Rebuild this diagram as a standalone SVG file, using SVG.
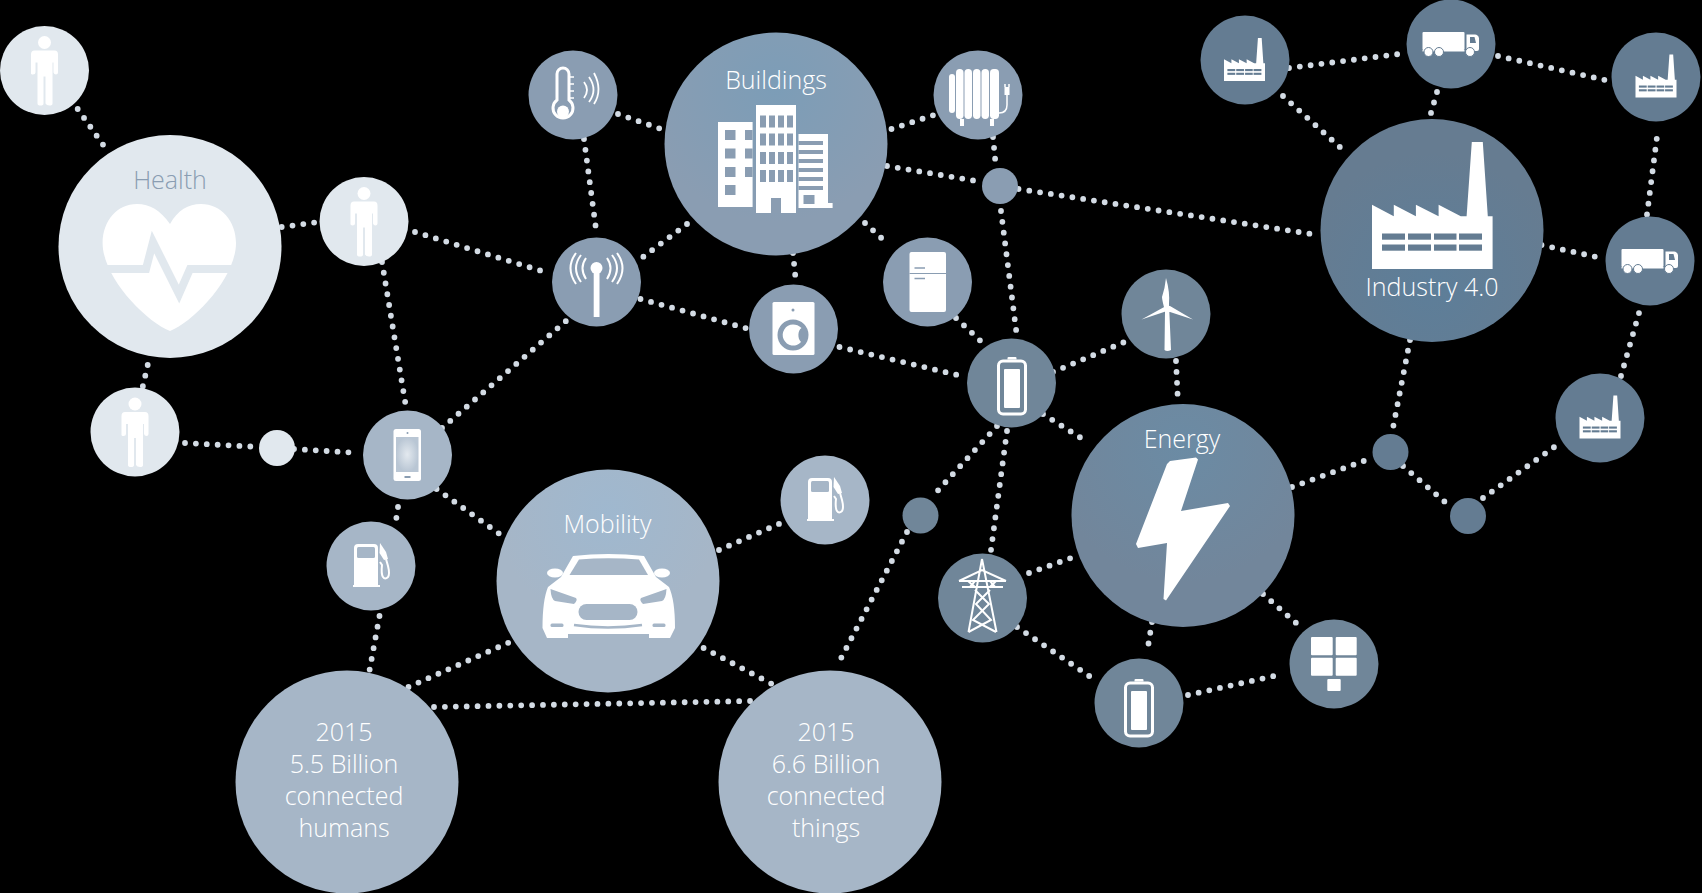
<svg xmlns="http://www.w3.org/2000/svg" width="1702" height="893" viewBox="0 0 1702 893">
<style>
.c{fill:none;stroke:#d3dbe4;stroke-width:5.8;stroke-linecap:round;stroke-dasharray:0 10.9}
.t{font-family:"Open Sans","Noto Sans",sans-serif;font-size:25px;font-weight:300;fill:#fff;text-anchor:middle}
.w{fill:#fff}
.s{fill:none;stroke:#fff}
.n1{fill:#e1e8ee}.n2{fill:#a6b6c7}.n3{fill:#8a9db2}.n4{fill:#708699}.n5{fill:#647c92}
</style>
<defs>
<radialGradient id="gB" cx=".5" cy=".25" r=".6"><stop offset="0" stop-color="#7c9db7"/><stop offset="1" stop-color="#8a9db2"/></radialGradient>
<radialGradient id="gI" cx=".5" cy=".75" r=".6"><stop offset="0" stop-color="#5d7e99"/><stop offset="1" stop-color="#667c91"/></radialGradient>
<radialGradient id="gE" cx=".5" cy=".2" r=".6"><stop offset="0" stop-color="#6b8ba4"/><stop offset="1" stop-color="#72869b"/></radialGradient>
<radialGradient id="gM" cx=".5" cy=".2" r=".5"><stop offset="0" stop-color="#9fb8cf"/><stop offset="1" stop-color="#a6b6c7"/></radialGradient>
<radialGradient id="gS"><stop offset="0" stop-color="#e3e9ef"/><stop offset="1" stop-color="#b9c6d4"/></radialGradient>
<g id="person">
<circle cy="-28" r="6.5" class="w"/>
<path class="w" d="M-10-20H10Q13.500-20 13.500-16V2Q13.500 4 11.500 4T9 2V-8H8V33Q8 35 5 35T1 33V6H-1V33Q-1 35-4 35T-7 33V-8H-9V2Q-9 4-11.500 4T-13.500 2V-16Q-13.500-20-10-20Z"/>
</g>
<g id="fuel">
<path class="w" d="M-17-18Q-17-22-13-22H3Q7-22 7-18V19H9V21H-18V19H-17Z"/>
<rect x="-14" y="-19" width="18" height="11" rx="1.500" fill="#a6b6c7"/>
<path class="w" d="M9-23L15-14 17-7 13-6 8.500-13Z"/>
<path d="M15-7L17 0Q19 8 17 11 14 14 12 11 10 8 11-1L9 -4" fill="none" stroke="#fff" stroke-width="2"/>
</g>
<g id="factory">
<path class="w" d="M-60.300 63.500V-.7L-38.500 10.700V-.7L-16.400 10.700V-.7L6.300 10.700V-.7L28.500 10.700H34.300L39.500-63.500H50.500L55.500 10.700H60.300V63.500Z"/>
<g fill="#647c92">
<rect x="-50.300" y="28" width="23" height="6.200"/><rect x="-24.300" y="28" width="23" height="6.200"/><rect x="1.700" y="28" width="22.500" height="6.200"/><rect x="26.700" y="28" width="23" height="6.200"/>
<rect x="-50.300" y="39" width="23" height="6.200"/><rect x="-24.300" y="39" width="23" height="6.200"/><rect x="1.700" y="39" width="22.500" height="6.200"/><rect x="26.700" y="39" width="23" height="6.200"/>
</g>
</g>
<g id="truck">
<rect x="-28.500" y="-12" width="42" height="18" rx="1" class="w"/>
<path class="w" d="M15.500-9.500H24Q27-9.500 28-6V5Q28 7 26 7H15.500Z"/>
<rect x="-28.500" y="6" width="42" height="1.500" class="w"/>
<path d="M19-7H23.500L25-1H19Z" fill="#647c92"/>
<circle cx="-22.500" cy="8" r="4.500" class="w" stroke="#647c92" stroke-width="1"/><circle cx="-12" cy="8" r="4.500" class="w" stroke="#647c92" stroke-width="1"/><circle cx="19" cy="8" r="4.500" class="w" stroke="#647c92" stroke-width="1"/>
</g>
<g id="battery">
<rect x="-13" y="-25" width="27" height="53" rx="4.500" class="s" stroke-width="3"/>
<rect x="-7.500" y="-17" width="16" height="39" rx="1" class="w"/>
<path class="w" d="M-4-26.500V-28Q-4-29-3-29H4Q5-29 5-28V-26.500Z"/>
</g>
</defs>
<rect width="1702" height="893" fill="#000"/>

<g id="connectors">
<path class="c" d="M77.700 109L109 153"/>
<path class="c" d="M281.700 227L315 222.500"/>
<path class="c" d="M147.700 365L142.700 387"/>
<path class="c" d="M415 232L545 272"/>
<path class="c" d="M382 262L406 407"/>
<path class="c" d="M442 428L569.500 318"/>
<path class="c" d="M185 443L260 447"/>
<path class="c" d="M294 449L359 453"/>
<path class="c" d="M584 139L596 229"/>
<path class="c" d="M618 114L661 129"/>
<path class="c" d="M687 224L641.600 258"/>
<path class="c" d="M640.500 299L749 329"/>
<path class="c" d="M793 253L796 283"/>
<path class="c" d="M891.500 129L934 115"/>
<path class="c" d="M993 137L996 168"/>
<path class="c" d="M887 166L976.500 181"/>
<path class="c" d="M1018.500 189L1315 234.500"/>
<path class="c" d="M1001 211L1017 337"/>
<path class="c" d="M865 223L889 245"/>
<path class="c" d="M956 318L986 346"/>
<path class="c" d="M839.500 347L966 377"/>
<path class="c" d="M1053 372L1124.500 342"/>
<path class="c" d="M1176 361L1178 403"/>
<path class="c" d="M1043 414L1089 443"/>
<path class="c" d="M1007 431L991 550"/>
<path class="c" d="M997 426L931 498"/>
<path class="c" d="M907 532L838 664"/>
<path class="c" d="M1029 573L1071 558"/>
<path class="c" d="M1017 627L1098 682"/>
<path class="c" d="M1152 622L1147 653"/>
<path class="c" d="M1263 594L1303 629"/>
<path class="c" d="M1188 695L1283 674"/>
<path class="c" d="M1292 487L1372 458"/>
<path class="c" d="M1410 340L1392 433"/>
<path class="c" d="M1403 466L1452 508"/>
<path class="c" d="M1483 498L1562.600 441"/>
<path class="c" d="M1621 376L1639 313"/>
<path class="c" d="M1647 214.500L1658 129"/>
<path class="c" d="M1541.500 245L1604 258.600"/>
<path class="c" d="M1498 56L1605 80"/>
<path class="c" d="M1289 68L1399 54"/>
<path class="c" d="M1437 92L1431 113"/>
<path class="c" d="M1283 96L1347.600 154"/>
<path class="c" d="M436.600 489L501 535"/>
<path class="c" d="M398 507L395 527"/>
<path class="c" d="M379.500 616L369.600 670"/>
<path class="c" d="M408.500 687L510 642"/>
<path class="c" d="M434 707L751 701"/>
<path class="c" d="M703.600 648L772 684"/>
<path class="c" d="M719 550L781 523"/>
</g>

<g id="health"><circle cx="170" cy="246.500" r="111.500" class="n1"/>
<text x="170" y="189" class="t" style="fill:#8a9db2">Health</text>
<path class="w" d="M170 224C160 210 150 204 137 204 117 204 102.600 221 102.600 243 102.600 277 145 321 170 331 195 321 236 277 236 243 236 221 221 204 201 204 188 204 178 210 170 224Z"/>
<path d="M100 269H146L153 242 179 294 190 269H240" fill="none" stroke="#e1e8ee" stroke-width="8"/>
</g>
<g id="person-top"><circle cx="44.500" cy="70.500" r="44.500" class="n1"/><use href="#person" x="44.500" y="70.500"/></g>
<g id="person-mid"><circle cx="364" cy="221.500" r="44.500" class="n1"/><use href="#person" x="364" y="221.500"/></g>
<g id="person-low"><circle cx="135" cy="432" r="44.500" class="n1"/><use href="#person" x="135" y="432"/></g>
<g id="junction-light"><circle cx="277" cy="448" r="18" class="n1"/></g>

<g id="phone"><circle cx="407.500" cy="455" r="44.500" class="n2"/>
<rect x="393.500" y="429" width="27.500" height="52" rx="2.500" class="w"/>
<rect x="396" y="437" width="22.500" height="35" fill="url(#gS)"/>
<rect x="404.500" y="476" width="6" height="2" fill="#8a9db2"/>
<circle cx="407.500" cy="433" r="1" fill="#8a9db2"/>
</g>
<g id="fuel-left"><circle cx="371" cy="566" r="44.500" class="n2"/><use href="#fuel" x="371" y="566"/></g>
<g id="fuel-right"><circle cx="825" cy="500" r="44.500" class="n2"/><use href="#fuel" x="825" y="500"/></g>

<g id="mobility"><circle cx="608" cy="581" r="111.500" fill="url(#gM)"/>
<text x="607.500" y="533" class="t">Mobility</text>
<ellipse cx="555" cy="573" rx="8" ry="4.500" class="w"/><ellipse cx="662" cy="573" rx="8" ry="4.500" class="w"/>
<path class="w" d="M573 556Q608 552 644 556L656 577 669 587Q675 600 675 628L670 638H649V634H568V638H547L542.500 628Q542.500 600 548 587L561 577Z"/>
<path d="M579 559.500Q608 557 639 559.500L648 575H569.500Z" fill="#a6b6c7"/>
<path d="M550.500 589L576 598Q578 600 574 604L555 601Q551 599 550.500 589ZM666.500 589L641 598Q639 600 643 604L662 601Q666 599 666.500 589Z" fill="#a6b6c7"/>
<rect x="578.500" y="604" width="59" height="16" rx="8" fill="#a6b6c7"/>
<path d="M574 625Q608 630 642 625" fill="none" stroke="#a6b6c7" stroke-width="2.500"/>
<rect x="550.500" y="623.500" width="13" height="3.500" rx="1.500" fill="#a6b6c7"/><rect x="652.500" y="623.500" width="13" height="3.500" rx="1.500" fill="#a6b6c7"/>
</g>

<g id="humans"><circle cx="347" cy="782" r="111.500" class="n2"/>
<text class="t" x="344" y="741">2015</text><text class="t" x="344" y="773">5.5 Billion</text><text class="t" x="344" y="805">connected</text><text class="t" x="344" y="837">humans</text>
</g>
<g id="things"><circle cx="830" cy="782" r="111.500" class="n2"/>
<text class="t" x="826" y="741">2015</text><text class="t" x="826" y="773">6.6 Billion</text><text class="t" x="826" y="805">connected</text><text class="t" x="826" y="837">things</text>
</g>

<g id="thermometer"><circle cx="573" cy="95" r="44.500" class="n3"/>
<path class="s" stroke-width="3" d="M557 100V74A6 6 0 0 1 569 74V100A10 10 0 1 1 557 100Z"/>
<circle cx="563" cy="111.500" r="6" class="w"/>
<path class="s" stroke-width="1.500" d="M570 77H574M570 84H574M570 91H574M570 98H574"/>
<path class="s" stroke-width="1.800" d="M584 82Q590 90 584 98M589 77Q598 90 589 102M594 73Q603 90 594 104"/>
</g>
<g id="buildings"><circle cx="776" cy="144" r="111.500" fill="url(#gB)"/>
<text class="t" x="776" y="89">Buildings</text>
<path class="w" d="M718 122H752.600V207H718ZM756 105H796V213H756ZM798.500 134H828V203H832.600V208H798.500Z"/>
<g fill="#8a9db2">
<rect x="725" y="130" width="10.500" height="10"/><rect x="725" y="148.500" width="10.500" height="10"/><rect x="725" y="167" width="10.500" height="10"/><rect x="725" y="185" width="10.500" height="10"/>
<rect x="745" y="130" width="7.600" height="10"/><rect x="745" y="148.500" width="7.600" height="10"/><rect x="745" y="167" width="7.600" height="10"/>
<rect x="760" y="115.500" width="6" height="12"/><rect x="769" y="115.500" width="6" height="12"/><rect x="778" y="115.500" width="6" height="12"/><rect x="787" y="115.500" width="6" height="12"/>
<rect x="760" y="133.500" width="6" height="12"/><rect x="769" y="133.500" width="6" height="12"/><rect x="778" y="133.500" width="6" height="12"/><rect x="787" y="133.500" width="6" height="12"/>
<rect x="760" y="152" width="6" height="12"/><rect x="769" y="152" width="6" height="12"/><rect x="778" y="152" width="6" height="12"/><rect x="787" y="152" width="6" height="12"/>
<rect x="760" y="170" width="6" height="12"/><rect x="769" y="170" width="6" height="12"/><rect x="778" y="170" width="6" height="12"/><rect x="787" y="170" width="6" height="12"/>
<rect x="771" y="198" width="10" height="15"/>
<rect x="798.500" y="141" width="24.500" height="4"/><rect x="798.500" y="150" width="24.500" height="4"/><rect x="798.500" y="159" width="24.500" height="4"/><rect x="798.500" y="168" width="24.500" height="4"/><rect x="798.500" y="177" width="24.500" height="4"/><rect x="798.500" y="186" width="24.500" height="4"/>
<rect x="803.500" y="195" width="11" height="9"/>
</g>
</g>
<g id="radiator"><circle cx="978" cy="95" r="44.500" class="n3"/>
<g class="w"><rect x="949" y="74" width="6" height="39" rx="3"/><rect x="956" y="69" width="7.500" height="50" rx="3.700"/><rect x="964.500" y="69" width="7.500" height="50" rx="3.700"/><rect x="973" y="69" width="7.500" height="50" rx="3.700"/><rect x="981.500" y="69" width="7.500" height="50" rx="3.700"/><rect x="990" y="69" width="9" height="50" rx="3.700"/>
<rect x="960" y="119" width="4" height="7"/><rect x="990" y="119" width="4" height="7"/><rect x="1004.500" y="87" width="5" height="8"/></g>
<path class="s" stroke-width="1.500" d="M999 113Q1007 113 1007 105V94M1005 87V84M1009 87V84"/>
</g>
<g id="antenna"><circle cx="596.500" cy="282" r="44.500" class="n3"/>
<rect x="593.700" y="268" width="5.800" height="49" class="w"/><circle cx="596.500" cy="268" r="6" class="w"/>
<path class="s" stroke-width="2" d="M586 258Q579 268 586 279M581 255Q571 268 581 282M576 253Q565 268 576 284M607 258Q614 268 607 279M612 255Q622 268 612 282M617 253Q628 268 617 284"/>
</g>
<g id="washer"><circle cx="793.500" cy="329" r="44.500" class="n3"/>
<rect x="772.500" y="302" width="42" height="53" rx="1.500" class="w"/>
<circle cx="793" cy="335" r="15.500" fill="#8a9db2"/>
<path class="w" d="M793 324.500A10.500 10.500 0 1 0 801 342C797 338 798 330 801.500 328 799 325.500 796 324.500 793 324.500Z"/>
<circle cx="793" cy="310" r="1.500" fill="#8a9db2"/>
</g>
<g id="fridge"><circle cx="927.500" cy="282" r="44.500" class="n3"/>
<rect x="909.500" y="252" width="36.500" height="60" rx="2" class="w"/>
<path d="M909.500 273.500H946" stroke="#8a9db2" stroke-width="1.200"/>
<path d="M914.500 268H925M914.500 278.500H925" stroke="#8a9db2" stroke-width="1.500"/>
</g>
<g id="junction-buildings"><circle cx="1000" cy="186" r="18" class="n3"/></g>

<g id="battery-top"><circle cx="1011.500" cy="383" r="44.500" class="n4"/><use href="#battery" x="1011.500" y="386"/></g>
<g id="wind"><circle cx="1166" cy="314" r="44.500" class="n4"/>
<path class="w" d="M1166 278Q1170 292 1169 304L1171 350Q1167 352 1164.500 350L1165 311Q1162 300 1162 297 1165 288 1166 278ZM1141.500 319.500L1166 306H1170L1193 319.500 1167 311Z"/>
</g>
<g id="energy"><circle cx="1183" cy="515.500" r="111.500" fill="url(#gE)"/>
<text class="t" x="1182" y="448">Energy</text>
<path class="w" d="M1170 461L1196 457.500 1198 459.500 1181 511 1228 503 1230 506 1166 600.500 1163.500 599 1167 543 1138 548 1136 544 1167 464Z"/>
</g>
<g id="tower"><circle cx="982.500" cy="598" r="44.500" class="n4"/>
<g class="s" stroke-width="2">
<path d="M982 559L968.500 632M982 559L996.500 632M959 581H1006M962 587H1003M959 581L982 570 1006 581M975 587L968 581 975 581 970 587M990 587L996 581 990 581 995 587"/>
<path d="M975 590L989 604 973 620 996 632M990 590L976 604 991 620 968.500 632"/>
</g></g>
<g id="battery-low"><circle cx="1139" cy="703" r="44.500" class="n4"/><use href="#battery" x="1138.500" y="708"/></g>
<g id="solar"><circle cx="1334" cy="664" r="44.500" class="n4"/>
<g class="w"><rect x="1311" y="637" width="21.700" height="18.300" rx="1"/><rect x="1335.700" y="637" width="21" height="18.300" rx="1"/><rect x="1311" y="657.700" width="21.700" height="18" rx="1"/><rect x="1335.700" y="657.700" width="21" height="18" rx="1"/><rect x="1327.300" y="679" width="13.400" height="12" rx="1"/></g>
</g>
<g id="junction-energy"><circle cx="920.500" cy="515.500" r="18" class="n4"/></g>

<g id="industry"><circle cx="1432" cy="230.500" r="111.500" fill="url(#gI)"/>
<use href="#factory" x="1432.300" y="205.500"/>
<text class="t" x="1432" y="296">Industry 4.0</text>
</g>
<g id="factory-a"><circle cx="1245" cy="60" r="44.500" class="n5"/><use href="#factory" transform="translate(1244.500 59.500) scale(.34)"/></g>
<g id="truck-a"><circle cx="1451" cy="44" r="44.500" class="n5"/><use href="#truck" x="1451" y="44"/></g>
<g id="factory-b"><circle cx="1656" cy="77" r="44.500" class="n5"/><use href="#factory" transform="translate(1656 76) scale(.34)"/></g>
<g id="truck-b"><circle cx="1650" cy="261" r="44.500" class="n5"/><use href="#truck" x="1650" y="261"/></g>
<g id="factory-c"><circle cx="1600" cy="418" r="44.500" class="n5"/><use href="#factory" transform="translate(1600 417) scale(.34)"/></g>
<g id="junction-a"><circle cx="1390.500" cy="452" r="18" class="n5"/></g>
<g id="junction-b"><circle cx="1468" cy="516" r="18" class="n5"/></g>
</svg>
